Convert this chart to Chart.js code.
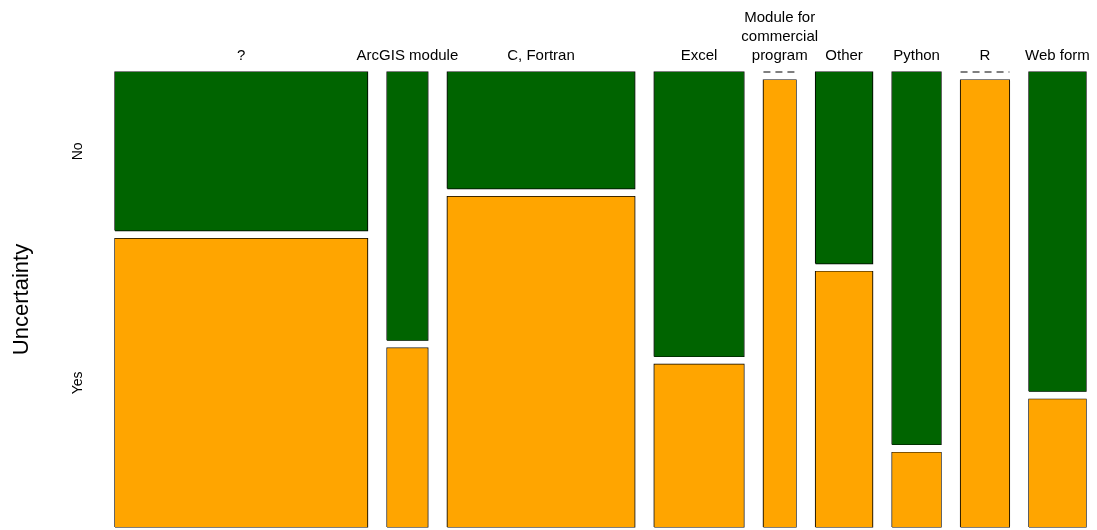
<!DOCTYPE html>
<html>
<head>
<meta charset="utf-8">
<script src="https://cdn.jsdelivr.net/npm/chart.js@4/dist/chart.umd.min.js"></script>
<style>
  html, body { margin: 0; padding: 0; background: #fff; }
  #wrap { width: 1097px; height: 530px; position: relative; }
</style>
</head>
<body>
<div id="wrap"><canvas id="mosaic"></canvas></div>
<script>
  // mosaic: Software (columns) x Uncertainty (No on top, Yes at bottom)
  const categories = ['?', 'ArcGIS module', 'C, Fortran', 'Excel', 'Module for commercial program', 'Other', 'Python', 'R', 'Web form'];
  const tickLabels = ['?', 'ArcGIS module', 'C, Fortran', 'Excel', ['Module for', 'commercial', 'program'], 'Other', 'Python', 'R', 'Web form'];
  const noCounts  = [11, 3, 6, 7, 0, 3, 5, 0, 5];
  const yesCounts = [20, 2, 17, 4, 4, 4, 1, 6, 2];
  const yLabels = ['No', 'Yes'];

  const GREEN = '#006400';
  const ORANGE = '#FFA500';
  const X_GAP = 2.4;     // gap between columns, in count units
  const Y_GAP = 0.018;   // gap between No / Yes tiles, in proportion units

  const totals = categories.map((c, i) => noCounts[i] + yesCounts[i]);
  const xMax = totals.reduce((s, n) => s + n, 0) + X_GAP * (categories.length - 1);

  // one tile = filled top edge down to y0, plus a closed outline
  const tile = (x0, x1, y0, y1, color) => [
    { data: [{ x: x0, y: y1 }, { x: x1, y: y1 }], backgroundColor: color, borderWidth: 0,
      fill: { value: y0 }, pointRadius: 0, tension: 0, clip: false },
    { data: [{ x: x0, y: y0 }, { x: x0, y: y1 }, { x: x1, y: y1 }, { x: x1, y: y0 }, { x: x0, y: y0 }],
      borderColor: '#000', borderWidth: 1.2, fill: false, pointRadius: 0, tension: 0, clip: false },
  ];
  const dash = (x0, x1, y) => ({
    data: [{ x: x0, y }, { x: x1, y }],
    borderColor: '#000', borderWidth: 1.2, borderDash: [7, 5],
    fill: false, pointRadius: 0, clip: false,
  });

  const datasets = [];
  const centers = [];
  let cum = 0;
  categories.forEach((c, i) => {
    const n = totals[i];
    const x0 = cum, x1 = cum + n;
    centers.push((x0 + x1) / 2);
    const yesP = yesCounts[i] / n;
    if (noCounts[i] === 0) {
      datasets.push(...tile(x0, x1, 0, 1, ORANGE));
      datasets.push(dash(x0, x1, 1 + Y_GAP));
    } else if (yesCounts[i] === 0) {
      datasets.push(dash(x0, x1, 0));
      datasets.push(...tile(x0, x1, Y_GAP, 1 + Y_GAP, GREEN));
    } else {
      datasets.push(...tile(x0, x1, 0, yesP, ORANGE));
      datasets.push(...tile(x0, x1, yesP + Y_GAP, 1 + Y_GAP, GREEN));
    }
    cum = x1 + X_GAP;
  });

  // y tick positions follow the first column's tiles
  const firstYes = yesCounts[0] / totals[0];
  const yTickVals = [firstYes + Y_GAP + (1 - firstYes) / 2, firstYes / 2];

  const font = { family: "'Liberation Sans', Arial, sans-serif" };

  new Chart(document.getElementById('mosaic').getContext('2d'), {
    type: 'line',
    data: { datasets },
    options: {
      responsive: true, maintainAspectRatio: false, animation: false,
      layout: { padding: { top: 0, right: 11, bottom: 3, left: 0 } },
      plugins: { legend: { display: false }, tooltip: { enabled: false } },
      events: [],
      scales: {
        x: {
          type: 'linear', position: 'top', min: 0, max: xMax,
          grid: { display: false, drawTicks: false }, border: { display: false },
          afterBuildTicks: (s) => { s.ticks = centers.map((v) => ({ value: v })); },
          afterFit: (s) => { s.height = 72; s.paddingLeft = 0; s.paddingRight = 0; },
          ticks: {
            autoSkip: false, maxRotation: 0, minRotation: 0, padding: 7, color: '#000',
            font: { ...font, size: 15, lineHeight: 1.25 },
            callback: (v, i) => tickLabels[i],
          },
        },
        y: {
          type: 'linear', min: 0, max: 1 + Y_GAP,
          grid: { display: false, drawTicks: false }, border: { display: false },
          afterBuildTicks: (s) => { s.ticks = yTickVals.map((v) => ({ value: v })); },
          afterFit: (s) => { s.width = 115; s.paddingTop = 0; s.paddingBottom = 0; },
          ticks: {
            minRotation: 90, maxRotation: 90, crossAlign: 'center', padding: 25, color: '#000',
            font: { ...font, size: 14 },
            callback: (v, i) => yLabels[i],
          },
          title: {
            display: true, text: 'Uncertainty', color: '#000',
            font: { ...font, size: 22 }, padding: { top: 9, bottom: 0 },
          },
        },
      },
    },
  });
</script>
</body>
</html>
